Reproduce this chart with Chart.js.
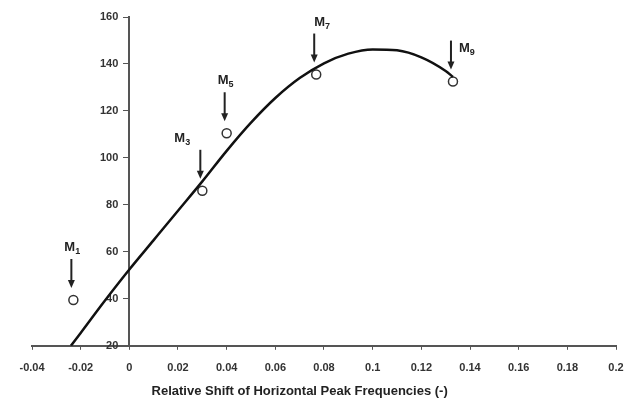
<!DOCTYPE html>
<html>
<head>
<meta charset="utf-8">
<script src="https://cdn.jsdelivr.net/npm/chart.js@4/dist/chart.umd.min.js"></script>
<style>
  html, body { margin: 0; padding: 0; background: #fff; }
</style>
</head>
<body>
<canvas id="chart" width="640" height="409"></canvas>
<script>
// fitted curve
const curveX = [-0.024, -0.02, -0.01, 0, 0.01, 0.02, 0.03, 0.04, 0.05, 0.06, 0.07, 0.08, 0.09, 0.10, 0.11, 0.12, 0.13, 0.133];
const curveY = [20, 25.5, 39.3, 52.5, 65, 77.5, 90, 103, 115, 125.5, 134, 140.3, 144.4, 146.2, 145.8, 142.8, 137, 134.5];

// measured samples (open circles)
const sampleNames = ['1', '3', '5', '7', '9'];
const sampleX = [-0.023, 0.03, 0.04, 0.0768, 0.133];
const sampleY = [39.5, 86, 110.5, 135.5, 132.5];

const xTitle = 'Relative Shift of Horizontal Peak Frequencies (-)';

// where each "M" label sits relative to its arrow (style only)
const labelSide = ['above', 'left', 'above', 'right', 'side'];

const FONT = '"Liberation Sans", Arial, sans-serif';
const INK = '#222';

// arrows, labels and the x title
const annotate = {
  id: 'annotate',
  afterDatasetsDraw(chart) {
    const ctx = chart.ctx;
    const xs = chart.scales.x, ys = chart.scales.y;
    ctx.save();
    ctx.fillStyle = INK;
    ctx.strokeStyle = INK;

    sampleX.forEach((v, i) => {
      const cx = xs.getPixelForValue(v) - 2;
      const cy = ys.getPixelForValue(sampleY[i]);
      const top = cy - 41, tip = cy - 12;
      // shaft
      ctx.lineWidth = 2;
      ctx.beginPath();
      ctx.moveTo(cx, top);
      ctx.lineTo(cx, tip - 7);
      ctx.stroke();
      // head
      ctx.beginPath();
      ctx.moveTo(cx - 3.5, tip - 8);
      ctx.lineTo(cx + 3.5, tip - 8);
      ctx.lineTo(cx, tip);
      ctx.closePath();
      ctx.fill();

      // label M with subscript
      let lx = cx - 7, ly = cy - 49;
      if (labelSide[i] === 'left') lx = cx - 26;
      if (labelSide[i] === 'right') lx = cx;
      if (labelSide[i] === 'side') { lx = cx + 8; ly = cy - 30; }
      ctx.font = 'bold 13px ' + FONT;
      ctx.textAlign = 'left';
      ctx.textBaseline = 'alphabetic';
      ctx.fillText('M', lx, ly);
      const w = ctx.measureText('M').width;
      ctx.font = 'bold 9px ' + FONT;
      ctx.fillText(sampleNames[i], lx + w, ly + 3);
    });

    // x axis title, centred where the original puts it
    ctx.font = 'bold 13px ' + FONT;
    ctx.textAlign = 'center';
    ctx.textBaseline = 'middle';
    ctx.fillText(xTitle, xs.getPixelForValue(0.07), 391);
    ctx.restore();
  }
};

new Chart(document.getElementById('chart').getContext('2d'), {
  data: {
    datasets: [
      {
        type: 'line',
        data: curveX.map((x, i) => ({ x, y: curveY[i] })),
        borderColor: '#111',
        borderWidth: 2.5,
        pointRadius: 0,
        cubicInterpolationMode: 'monotone',
        order: 1
      },
      {
        type: 'scatter',
        data: sampleX.map((x, i) => ({ x, y: sampleY[i] })),
        pointStyle: 'circle',
        pointRadius: 4.5,
        borderWidth: 1.5,
        borderColor: '#333',
        backgroundColor: 'rgba(255,255,255,0)',
        order: 2
      }
    ]
  },
  options: {
    responsive: false,
    animation: false,
    devicePixelRatio: 1,
    layout: { padding: { left: 32, right: 24, top: 17, bottom: 22 } },
    plugins: { legend: { display: false }, tooltip: { enabled: false } },
    scales: {
      x: {
        type: 'linear',
        min: -0.04,
        max: 0.2,
        grid: { drawOnChartArea: false, tickLength: 4, color: '#555', lineWidth: 1 },
        border: { color: '#555', width: 2 },
        ticks: {
          stepSize: 0.02,
          padding: 12,
          color: '#333',
          font: { family: FONT, size: 11, weight: 'bold' },
          callback: v => String(Number(v.toFixed(2)))
        }
      },
      y: {
        type: 'linear',
        position: { x: 0 },
        min: 20,
        max: 160,
        grid: { drawOnChartArea: false, tickLength: 5, color: '#555', lineWidth: 1 },
        border: { color: '#555', width: 2 },
        ticks: {
          stepSize: 20,
          color: '#333',
          font: { family: FONT, size: 11, weight: 'bold' },
          // axis sits inside the plot, so push the labels off the line
          callback: v => v + '\u2002\u2002'
        }
      }
    }
  },
  plugins: [annotate]
});
</script>
</body>
</html>
